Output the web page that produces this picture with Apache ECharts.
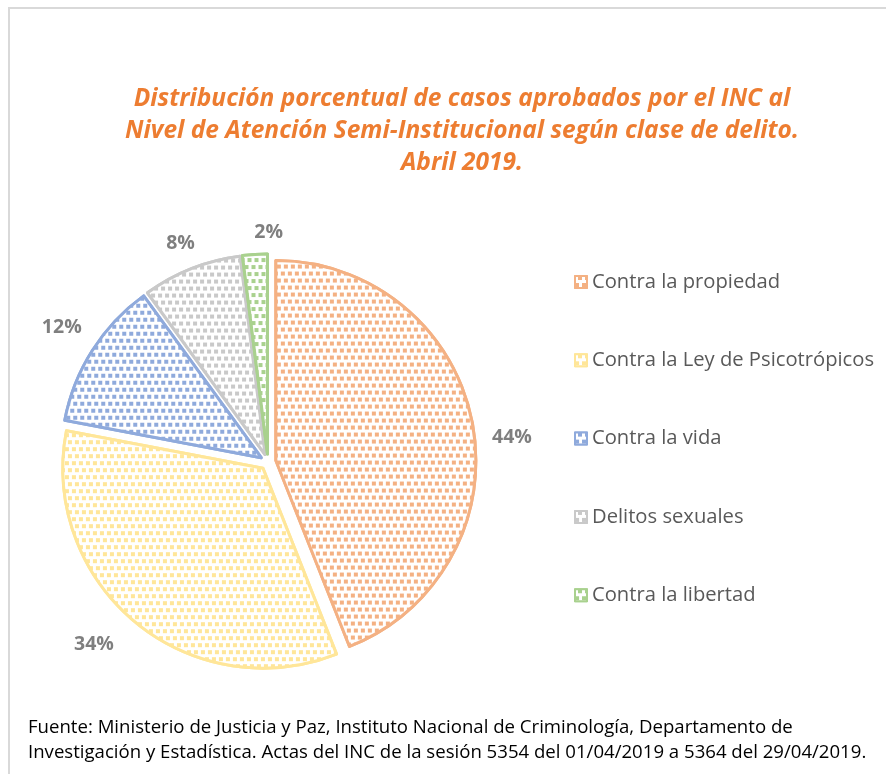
<!DOCTYPE html>
<html>
<head>
<meta charset="utf-8">
<script src="https://cdn.jsdelivr.net/npm/echarts@6/dist/echarts.min.js"></script>
<style>
html,body{margin:0;padding:0;background:#fff;}
#chart{width:886px;height:774px;}
</style>
</head>
<body>
<div id="chart"></div>
<script>
const titleText = 'Distribución porcentual de casos aprobados por el INC al\nNivel de Atención Semi-Institucional según clase de delito.\nAbril 2019.';
const sourceText = 'Fuente: Ministerio de Justicia y Paz, Instituto Nacional de Criminología, Departamento de\nInvestigación y Estadística. Actas del INC de la sesión 5354 del 01/04/2019 a 5364 del 29/04/2019.';
const categories = ['Contra la propiedad', 'Contra la Ley de Psicotrópicos', 'Contra la vida', 'Delitos sexuales', 'Contra la libertad'];
const values = [44, 34, 12, 8, 2];
const colors = ['#F4B183', '#FFE699', '#8FAADC', '#C9C9C9', '#A9D18E'];
// small nudges of the percentage labels (Excel-like placement)
const labelNudges = [[0, 17], [-7, 11], [7, -15], [14, -11], [34, -7]];

const FONT = '"Open Sans", Lato, sans-serif';

const data = categories.map((name, i) => ({
  name: name,
  value: values[i],
  selected: true,
  itemStyle: {
    color: '#ffffff',
    borderColor: colors[i],
    borderWidth: 3,
    decal: {
      symbol: 'rect',
      symbolSize: 1,
      color: colors[i],
      backgroundColor: '#ffffff',
      dashArrayX: [[4, 3], [0, 3, 4, 0]],
      dashArrayY: [4, 3],
      rotation: 0
    }
  }
}));

const chart = echarts.init(document.getElementById('chart'), null, {renderer: 'canvas'});
chart.setOption({
  backgroundColor: '#ffffff',
  animation: false,
  title: [{
    text: titleText,
    left: 457,
    top: 78,
    textAlign: 'center',
    textStyle: {
      fontFamily: FONT,
      fontSize: 24.5,
      fontWeight: 'bold',
      fontStyle: 'italic',
      color: '#ED7D31',
      lineHeight: 32,
      align: 'center'
    }
  }],
  legend: {
    orient: 'vertical',
    left: 569,
    top: 267,
    itemWidth: 12,
    itemHeight: 12,
    itemGap: 58.3,
    icon: 'rect',
    selectedMode: false,
    data: categories,
    textStyle: {
      fontFamily: FONT,
      fontSize: 20.2,
      color: '#595959',
      lineHeight: 20
    }
  },
  series: [{
    type: 'pie',
    center: [268, 462],
    radius: 200,
    startAngle: 90,
    clockwise: true,
    selectedMode: 'multiple',
    selectedOffset: 8,
    avoidLabelOverlap: false,
    emphasis: {disabled: true},
    label: {
      show: true,
      position: 'outside',
      formatter: '{c}%',
      fontFamily: FONT,
      fontSize: 19.5,
      fontWeight: 'bold',
      color: '#7F7F7F'
    },
    labelLine: {show: false, length: 15, length2: 0},
    labelLayout: function (p) {
      const n = labelNudges[p.dataIndex] || [0, 0];
      return {dx: n[0], dy: n[1]};
    },
    data: data
  }],
  graphic: [{
    type: 'rect',
    shape: {x: 9, y: 8, width: 900, height: 800},
    style: {fill: 'none', stroke: '#D9D9D9', lineWidth: 2},
    silent: true
  }, {
    type: 'text',
    left: 28,
    top: 715,
    style: {
      text: sourceText,
      fontFamily: FONT,
      fontSize: 18.6,
      lineHeight: 25,
      fill: '#000000'
    }
  }]
});
</script>
</body>
</html>
